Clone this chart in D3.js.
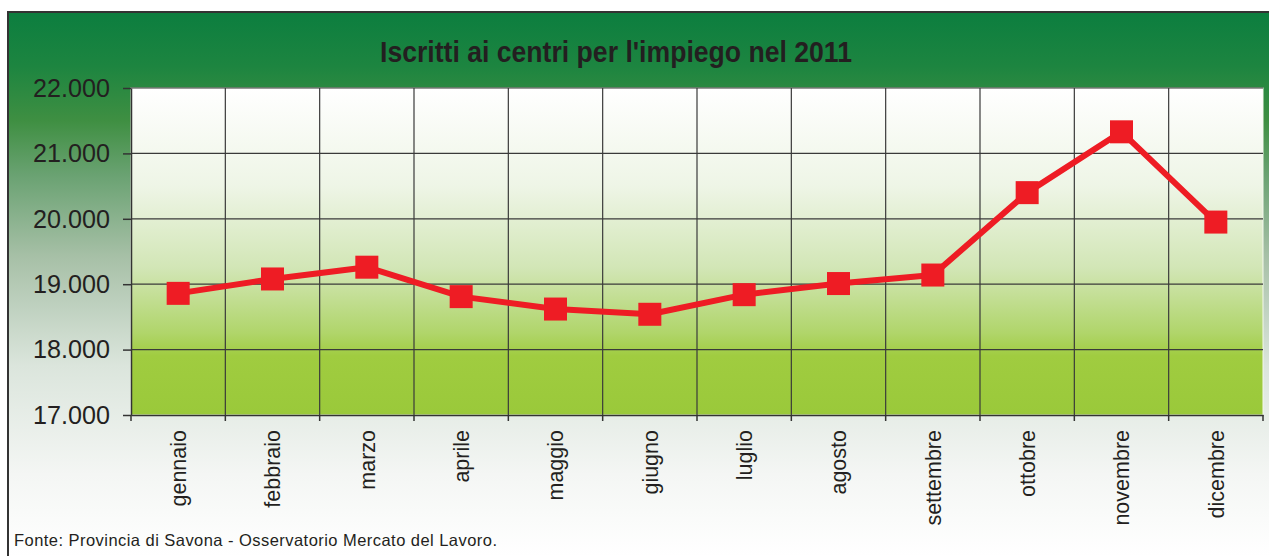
<!DOCTYPE html>
<html>
<head>
  <meta charset="UTF-8">
  <script src="https://d3js.org/d3.v7.min.js"></script>
  <style>
    body { margin: 0; background: #fff; }
    svg { display: block; font-family: "Liberation Sans", Arial, sans-serif; }
  </style>
</head>
<body>
<script>
// data
const mesi = ["gennaio", "febbraio", "marzo", "aprile", "maggio", "giugno",
              "luglio", "agosto", "settembre", "ottobre", "novembre", "dicembre"];
const iscritti = [18860, 19080, 19260, 18810, 18620, 18540,
                  18840, 19010, 19140, 20400, 21330, 19950];
const yTicks = [17000, 18000, 19000, 20000, 21000, 22000];

const W = 1269, H = 556;
const plot = {left: 131, right: 1263, top: 88, bottom: 415};

const svg = d3.select("body").append("svg")
  .attr("width", W)
  .attr("height", H);

const defs = svg.append("defs");

// outer background: dark green at top fading to white
const bg = defs.append("linearGradient")
  .attr("id", "bgGrad")
  .attr("gradientUnits", "userSpaceOnUse")
  .attr("x1", 0).attr("y1", 12).attr("x2", 0).attr("y2", 556);
[[0, "#0c7e3f"], [0.1, "#1d8540"], [0.2, "#3f8f42"], [0.3, "#6aa272"],
 [0.45, "#a7c0a7"], [0.65, "#dbe5dc"], [0.85, "#f4f6f4"], [1, "#ffffff"]]
  .forEach(s => bg.append("stop").attr("offset", s[0]).attr("stop-color", s[1]));

// plot area: white at top to yellow-green at bottom
const pg = defs.append("linearGradient")
  .attr("id", "plotGrad")
  .attr("x1", 0).attr("y1", 0).attr("x2", 0).attr("y2", 1);
[[0, "#ffffff"], [0.3, "#eef5e6"], [0.55, "#d2e6b6"], [0.75, "#b0d56a"],
 [0.82, "#a0cc40"], [1, "#9ac93a"]]
  .forEach(s => pg.append("stop").attr("offset", s[0]).attr("stop-color", s[1]));

svg.append("rect")
  .attr("x", 8).attr("y", 12)
  .attr("width", W + 20).attr("height", H + 20)
  .attr("fill", "url(#bgGrad)")
  .attr("stroke", "#333")
  .attr("stroke-width", 2);

// scales
const x = d3.scaleBand()
  .domain(mesi)
  .range([plot.left, plot.right])
  .padding(0);

const y = d3.scaleLinear()
  .domain([17000, 22000])
  .range([plot.bottom, plot.top]);

svg.append("rect")
  .attr("x", plot.left).attr("y", plot.top)
  .attr("width", plot.right - plot.left)
  .attr("height", plot.bottom - plot.top)
  .attr("fill", "url(#plotGrad)")
  .attr("stroke", "#f4f8ee")
  .attr("stroke-width", 1);

// grid lines
svg.append("g")
  .selectAll("line")
  .data(yTicks.slice(1))
  .join("line")
  .attr("x1", plot.left).attr("x2", plot.right)
  .attr("y1", d => y(d)).attr("y2", d => y(d))
  .attr("stroke", "#3a3a3a")
  .attr("stroke-width", 1.2);

svg.append("g")
  .selectAll("line")
  .data(mesi.slice(1))
  .join("line")
  .attr("x1", d => x(d)).attr("x2", d => x(d))
  .attr("y1", plot.top).attr("y2", plot.bottom)
  .attr("stroke", "#3a3a3a")
  .attr("stroke-width", 1.2);

// y axis
const fmt = d => d3.format(",.0f")(d).replace(/,/g, ".");
const yAxis = svg.append("g")
  .attr("transform", "translate(" + plot.left + ",0)")
  .call(d3.axisLeft(y).tickValues(yTicks).tickFormat(fmt).tickSize(8).tickSizeOuter(0).tickPadding(13));
yAxis.select(".domain").attr("stroke", "#333").attr("stroke-width", 1.5);
yAxis.selectAll(".tick line").attr("stroke", "#333").attr("stroke-width", 1.5);
yAxis.selectAll("text")
  .attr("font-size", 26)
  .attr("font-family", "Liberation Sans, Arial, sans-serif")
  .attr("fill", "#231f20")
  .attr("textLength", 77)
  .attr("lengthAdjust", "spacingAndGlyphs");

// x axis: labels at band centres, tick marks at band edges
const xAxis = svg.append("g")
  .attr("transform", "translate(0," + plot.bottom + ")")
  .call(d3.axisBottom(x).tickSize(0).tickSizeOuter(0));
xAxis.select(".domain").attr("stroke", "#333").attr("stroke-width", 1.5);
xAxis.selectAll("text")
  .attr("transform", "rotate(-90)")
  .attr("x", -15)
  .attr("y", 0)
  .attr("dy", "0.36em")
  .attr("text-anchor", "end")
  .attr("font-size", 21.5)
  .attr("font-family", "Liberation Sans, Arial, sans-serif")
  .attr("fill", "#231f20");

xAxis.append("g")
  .selectAll("line")
  .data(d3.range(mesi.length + 1))
  .join("line")
  .attr("x1", i => plot.left + i * x.step())
  .attr("x2", i => plot.left + i * x.step())
  .attr("y1", 0).attr("y2", 6)
  .attr("stroke", "#333")
  .attr("stroke-width", 1.5);

// series
const serie = mesi.map((m, i) => ({m: m, v: iscritti[i]}));
const cx = d => x(d.m) + x.bandwidth() / 2;

svg.append("path")
  .datum(serie)
  .attr("fill", "none")
  .attr("stroke", "#ee1c24")
  .attr("stroke-width", 6)
  .attr("stroke-linejoin", "round")
  .attr("d", d3.line().x(cx).y(d => y(d.v)));

svg.append("g")
  .selectAll("rect")
  .data(serie)
  .join("rect")
  .attr("x", d => cx(d) - 11.5)
  .attr("y", d => y(d.v) - 11.5)
  .attr("width", 23)
  .attr("height", 23)
  .attr("fill", "#ee1c24");

// title
svg.append("text")
  .attr("x", 380)
  .attr("y", 62)
  .attr("font-size", 29)
  .attr("font-weight", "bold")
  .attr("fill", "#231f20")
  .attr("textLength", 472)
  .attr("lengthAdjust", "spacingAndGlyphs")
  .text("Iscritti ai centri per l'impiego nel 2011");

// source note
svg.append("text")
  .attr("x", 14)
  .attr("y", 546)
  .attr("font-size", 16.5)
  .attr("fill", "#231f20")
  .attr("textLength", 483)
  .attr("lengthAdjust", "spacing")
  .text("Fonte: Provincia di Savona - Osservatorio Mercato del Lavoro.");
</script>
</body>
</html>
